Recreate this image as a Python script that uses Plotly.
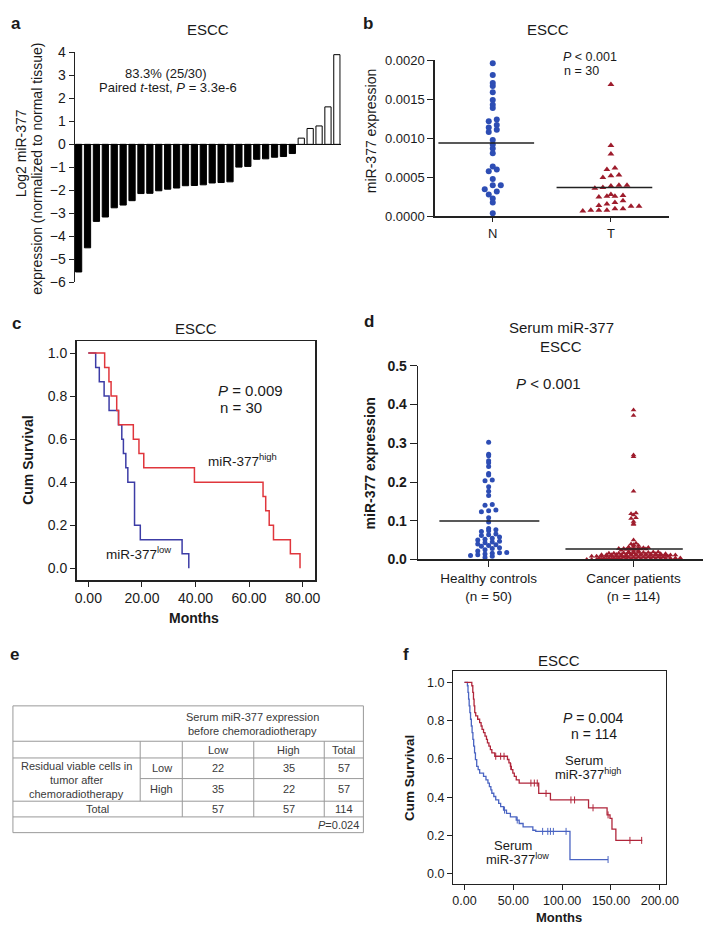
import plotly.graph_objects as go

W, H = 712, 926
def X(px): return px / W
def Y(py): return 1 - py / H

FONT = "Liberation Sans, Arial, Helvetica, sans-serif"
TXT = "#1a1a1a"

# ---------------- data ----------------
# panel a
a_log2 = [-5.55, -4.5, -3.35, -3.16, -2.76, -2.64, -2.45, -2.14, -2.13, -2.02,
          -1.95, -1.9, -1.8, -1.79, -1.76, -1.68, -1.66, -1.63, -0.99, -0.96,
          -0.65, -0.63, -0.56, -0.53, -0.4, 0.27, 0.69, 0.8, 1.63, 3.9]
a_ticks = [4, 3, 2, 1, 0, -1, -2, -3, -4, -5, -6]

# panel b
b_cats = ["N", "T"]
b_N = [0.00196, 0.00181, 0.00171, 0.00167, 0.00159, 0.00149, 0.00143, 0.00139, 0.00124, 0.00122,
       0.00117, 0.00114, 0.00111, 0.00108, 0.00098, 0.00092, 0.00087, 0.00081, 0.00064, 0.0006,
       0.00058, 0.00048, 0.0004, 0.0004, 0.00035, 0.00032, 0.00028, 0.00023, 0.00018, 0.00004]
b_T = [0.00169, 0.00091, 0.0008, 0.00062, 0.0006, 0.00053, 0.00052, 0.0005, 0.0004, 0.0004,
       0.00039, 0.00037, 0.00036, 0.00028, 0.00027, 0.00026, 0.00026, 0.00025, 0.0002, 0.00018,
       0.00016, 0.00014, 0.00013, 0.00013, 0.0001, 0.0001, 0.00008, 0.00008, 0.00008, 0.00007]
b_lines = [0.00094, 0.00037]
b_ticks = [0, 0.0005, 0.001, 0.0015, 0.002]

# panel c (Kaplan-Meier, step points)
c_high_t = [0, 6.1, 7.7, 8.5, 10.6, 11.3, 16.8, 18.9, 20.7, 39.6, 65.2, 66.2, 67.5, 69.1, 75.4, 79.0]
c_high_s = [1.0, 0.933, 0.867, 0.8, 0.733, 0.667, 0.6, 0.533, 0.467, 0.4, 0.333, 0.267, 0.2, 0.133, 0.067, 0.0]
c_low_t = [0, 2.75, 4.1, 5.9, 7.75, 11.25, 12.5, 13.1, 14.0, 14.75, 17.25, 19.4, 35.0, 37.5]
c_low_s = [1.0, 0.933, 0.867, 0.8, 0.733, 0.667, 0.6, 0.533, 0.467, 0.4, 0.2, 0.133, 0.067, 0.0]
c_xticks = [0, 20, 40, 60, 80]
km_yticks = [0, 0.2, 0.4, 0.6, 0.8, 1.0]

# panel d
d_cats = ["Healthy controls<br>(n = 50)", "Cancer patients<br>(n = 114)"]
d_healthy = [0.303, 0.272, 0.268, 0.255, 0.25, 0.24, 0.222, 0.218, 0.205, 0.203,
             0.188, 0.176, 0.165, 0.142, 0.14, 0.128, 0.126, 0.123, 0.108, 0.097,
             0.08, 0.077, 0.074, 0.072, 0.066, 0.064, 0.062, 0.058, 0.055, 0.052,
             0.05, 0.047, 0.045, 0.043, 0.04, 0.038, 0.036, 0.034, 0.03, 0.028,
             0.025, 0.022, 0.018, 0.017, 0.016, 0.014, 0.012, 0.01, 0.008, 0.005]
d_cancer = [0.386, 0.372, 0.27, 0.265, 0.176, 0.12, 0.118, 0.115, 0.108, 0.106,
            0.098, 0.093, 0.09, 0.05, 0.042, 0.04, 0.038, 0.036, 0.034,
            0.032, 0.031, 0.03, 0.03, 0.029, 0.029, 0.028, 0.028, 0.027, 0.027, 0.026, 0.026, 0.026,
            0.024, 0.022, 0.021, 0.02,
            0.019, 0.019, 0.018, 0.018, 0.018, 0.017, 0.017, 0.017, 0.016, 0.016,
            0.016, 0.015, 0.015, 0.015, 0.014, 0.014, 0.014, 0.0135, 0.0135, 0.013,
            0.0125, 0.0125, 0.012, 0.012, 0.012, 0.0115, 0.0115, 0.011, 0.011, 0.011,
            0.0105, 0.0105, 0.01, 0.01, 0.01, 0.0095, 0.0095, 0.009, 0.009, 0.0085,
            0.0085, 0.008, 0.008, 0.0075, 0.007, 0.007,
            0.006, 0.006, 0.0055, 0.0055, 0.005, 0.005, 0.005, 0.0045, 0.0045, 0.004,
            0.004, 0.004, 0.0035, 0.0035, 0.003, 0.003, 0.003, 0.0025, 0.0025, 0.002,
            0.002, 0.002, 0.0015, 0.0015, 0.001, 0.001, 0.001, 0.0005, 0.0005, 0.0,
            0.0, 0.0]
d_lines = [0.099, 0.027]
d_ticks = [0, 0.1, 0.2, 0.3, 0.4, 0.5]

# panel e (table)
e_header = ["Serum miR-377 expression", "before chemoradiotherapy"]
e_col_labels = ["Low", "High", "Total"]
e_row_title = ["Residual viable cells in", "tumor after", "chemoradiotherapy"]
e_row_labels = ["Low", "High"]
e_counts = [[22, 35, 57], [35, 22, 57]]
e_totals = [57, 57, 114]
e_p = "=0.024"

# panel f (Kaplan-Meier, step points + censor marks)
f_high_t = [0, 7.5, 8.5, 9.2, 9.8, 10.5, 11.5, 13.5, 15.5, 17, 18, 19.5, 21, 22.5, 23.5, 25, 26.5, 28, 31,
            44, 45.5, 47, 48, 49.5, 51, 53, 56, 76, 88, 127, 146, 149, 151, 155, 182]
f_high_s = [1.0, 0.982, 0.947, 0.912, 0.877, 0.842, 0.825, 0.807, 0.79, 0.772, 0.754, 0.737, 0.719, 0.702,
            0.684, 0.667, 0.649, 0.632, 0.614, 0.597, 0.579, 0.561, 0.544, 0.526, 0.509, 0.491, 0.474,
            0.42, 0.386, 0.345, 0.308, 0.29, 0.234, 0.175, 0.175]
f_high_cens_t = [32, 37, 40.5, 47.4, 68, 71.5, 74.5, 83.5, 109, 112.7, 131.6, 147, 169.4, 181.4]
f_high_cens_s = [0.614, 0.614, 0.614, 0.561, 0.474, 0.474, 0.474, 0.42, 0.386, 0.386, 0.345, 0.308, 0.175, 0.175]
f_low_t = [0, 3, 3.6, 4.2, 4.8, 5.5, 6.2, 7, 7.8, 8.6, 9.4, 10.3, 11.2, 12.5, 14, 15.5, 19.5, 22, 24,
           25.5, 27, 28, 30, 32, 35, 37, 40, 43, 47, 53, 56, 60, 70, 73, 108, 147]
f_low_s = [1.0, 0.982, 0.947, 0.912, 0.877, 0.842, 0.807, 0.772, 0.737, 0.702, 0.667, 0.632, 0.596,
           0.561, 0.544, 0.526, 0.509, 0.491, 0.474, 0.456, 0.439, 0.421, 0.404, 0.386, 0.368, 0.351,
           0.333, 0.316, 0.298, 0.281, 0.263, 0.246, 0.228, 0.222, 0.075, 0.075]
f_low_cens_t = [41, 54, 80, 85.3, 88, 91, 104, 147]
f_low_cens_s = [0.333, 0.281, 0.222, 0.222, 0.222, 0.222, 0.222, 0.075]
f_xticks = [0, 50, 100, 150, 200]

# ---------------- helpers ----------------
def swarm_offsets(values, bin_size, step):
    bins = {}
    for i, v in enumerate(values):
        bins.setdefault(int(v // bin_size), []).append(i)
    offs = [0.0] * len(values)
    for idx in bins.values():
        idx.sort(key=lambda i: values[i])
        n = len(idx)
        for k, i in enumerate(idx):
            offs[i] = (k - (n - 1) / 2) * step
    return offs

BLUE_DOT = "#2d4db4"
RED_TRI = "#9e1c2c"

fig = go.Figure()

# ---- panel a ----
fig.add_trace(go.Bar(
    x=list(range(len(a_log2))), y=a_log2, width=0.7,
    marker=dict(color=["black" if v < 0 else "white" for v in a_log2],
                line=dict(color="black", width=1)),
    xaxis="x", yaxis="y"))

# ---- panel b ----
for ci, (vals, sym, col, size) in enumerate([(b_N, "circle", BLUE_DOT, 6), (b_T, "triangle-up", RED_TRI, 6)]):
    offs = swarm_offsets(vals, 0.00007, 0.068)
    fig.add_trace(go.Scatter(x=[ci + o for o in offs], y=vals, mode="markers",
                             marker=dict(symbol=sym, color=col, size=size),
                             cliponaxis=False, xaxis="x2", yaxis="y2"))
    fig.add_trace(go.Scatter(x=[ci - 0.46, ci + 0.35], y=[b_lines[ci]] * 2, mode="lines",
                             line=dict(color="#222", width=1.5), xaxis="x2", yaxis="y2"))

# ---- panel c ----
fig.add_trace(go.Scatter(x=c_low_t, y=c_low_s, mode="lines",
                         line=dict(shape="hv", color="#3c3ca6", width=1.5), xaxis="x3", yaxis="y3"))
fig.add_trace(go.Scatter(x=c_high_t, y=c_high_s, mode="lines",
                         line=dict(shape="hv", color="#e0363c", width=1.5), xaxis="x3", yaxis="y3"))

# ---- panel d ----
for ci, (vals, sym, col, size, bs, st) in enumerate([(d_healthy, "circle", BLUE_DOT, 5, 0.01, 0.05),
                                                     (d_cancer, "triangle-up", RED_TRI, 5, 0.004, 0.034)]):
    offs = swarm_offsets(vals, bs, st)
    fig.add_trace(go.Scatter(x=[ci + o for o in offs], y=vals, mode="markers",
                             marker=dict(symbol=sym, color=col, size=size),
                             cliponaxis=False, xaxis="x4", yaxis="y4"))
line_ext = [(-0.34, 0.35), (-0.47, 0.34)]
for ci in range(2):
    fig.add_trace(go.Scatter(x=[ci + line_ext[ci][0], ci + line_ext[ci][1]], y=[d_lines[ci]] * 2,
                             mode="lines", line=dict(color="#222", width=1.5), xaxis="x4", yaxis="y4"))

# ---- panel f ----
F_BLUE, F_RED = "#4a64c2", "#b0253a"
fig.add_trace(go.Scatter(x=f_low_t, y=f_low_s, mode="lines",
                         line=dict(shape="hv", color=F_BLUE, width=1.3), xaxis="x5", yaxis="y5"))
fig.add_trace(go.Scatter(x=f_high_t, y=f_high_s, mode="lines",
                         line=dict(shape="hv", color=F_RED, width=1.3), xaxis="x5", yaxis="y5"))
fig.add_trace(go.Scatter(x=f_low_cens_t, y=f_low_cens_s, mode="markers",
                         marker=dict(symbol="line-ns", size=5, line=dict(color=F_BLUE, width=1)),
                         xaxis="x5", yaxis="y5"))
fig.add_trace(go.Scatter(x=f_high_cens_t, y=f_high_cens_s, mode="markers",
                         marker=dict(symbol="line-ns", size=5, line=dict(color=F_RED, width=1)),
                         xaxis="x5", yaxis="y5"))

# ---------------- axes ----------------
ax_common = dict(showgrid=False, zeroline=False, linecolor="#222", tickcolor="#222",
                 ticks="outside", fixedrange=True)

layout = dict(
    width=W, height=H, autosize=False, margin=dict(l=0, r=0, t=0, b=0),
    paper_bgcolor="white", plot_bgcolor="rgba(0,0,0,0)", showlegend=False,
    font=dict(family=FONT, color=TXT, size=13), hovermode=False,
    # a
    xaxis=dict(domain=[X(66), X(338)], range=[-0.45, 29.45], visible=False, anchor="y", fixedrange=True),
    yaxis=dict(domain=[Y(271), Y(37)], range=[-6, 4], anchor="x", tickvals=a_ticks,
               showline=True, linewidth=1, ticklen=5, tickfont=dict(size=14),
               **{k: v for k, v in ax_common.items() if k != "zeroline"},
               zeroline=True, zerolinecolor="#111", zerolinewidth=1),
    # b
    xaxis2=dict(domain=[X(434), X(673)], range=[-0.49, 1.49], anchor="y2", tickvals=[0, 1],
                ticktext=b_cats, showline=True, linewidth=1.5, ticklen=4, tickfont=dict(size=13), **ax_common),
    yaxis2=dict(domain=[Y(204), Y(45)], range=[0, 0.002], anchor="x2", tickvals=b_ticks,
                tickformat=".4f", showline=True, linewidth=1.5, ticklen=6, tickfont=dict(size=13), **ax_common),
    # c
    xaxis3=dict(domain=[X(68), X(312)], range=[-4.38, 84.75], anchor="y3", tickvals=c_xticks,
                tickformat=".2f", showline=True, mirror=True, linewidth=1.5, ticklen=5,
                tickfont=dict(size=14), **ax_common),
    yaxis3=dict(domain=[Y(574), Y(331)], range=[-0.0548, 1.0548], anchor="x3", tickvals=km_yticks,
                tickformat=".1f", showline=True, mirror=True, linewidth=1.5, ticklen=5,
                tickfont=dict(size=14), **ax_common),
    # d
    xaxis4=dict(domain=[X(417), X(708)], range=[-0.486, 1.48], anchor="y4", tickvals=[0, 1],
                ticktext=d_cats, showline=True, linewidth=1.5, ticklen=6,
                tickfont=dict(size=13.5), **ax_common),
    yaxis4=dict(domain=[Y(553), Y(356)], range=[0, 0.5], anchor="x4", tickvals=d_ticks,
                tickformat=".1f", showline=True, linewidth=1.5, ticklen=7,
                tickfont=dict(size=14, weight="bold"), **ax_common),
    # f
    xaxis5=dict(domain=[X(453), X(670)], range=[-11.3, 206.2], anchor="y5", tickvals=f_xticks,
                tickformat=".2f", showline=True, mirror=True, linewidth=1.5, ticklen=5,
                tickfont=dict(size=12.5), **ax_common),
    yaxis5=dict(domain=[Y(883), Y(667)], range=[-0.0513, 1.0564], anchor="x5", tickvals=km_yticks,
                tickformat=".1f", showline=True, mirror=True, linewidth=1.5, ticklen=5,
                tickfont=dict(size=12.5), **ax_common),
)
fig.update_layout(**layout)

# ---------------- annotations ----------------
anns = []
def ann(px, py, text, size=13, xanchor="center", angle=0, color=TXT):
    anns.append(dict(x=X(px), y=Y(py), xref="paper", yref="paper", text=text, showarrow=False,
                     xanchor=xanchor, yanchor="middle", textangle=angle,
                     font=dict(family=FONT, size=size, color=color)))

# panel letters
for px, py, t in [(6, 8, "a"), (366, 8, "b"), (7, 313, "c"), (367, 311, "d"), (5, 650, "e"), (405, 650, "f")]:
    ann(px, py, "<b>%s</b>" % t, size=17)

# a
ann(202, 14, "ESCC", 15)
ann(159, 59, "83.3% (25/30)", 13)
ann(161, 73, "Paired <i>t</i>-test, <i>P</i> = 3.3e-6", 13)
ann(11, 140, "Log2 miR-377", 14, angle=-90)
ann(28, 155, "expression (normalized to normal tissue)", 14, angle=-90)

# b
ann(550, 14, "ESCC", 15)
ann(563, 42, "<i>P</i> < 0.001", 12.5, xanchor="left")
ann(564, 56, "n = 30", 12.5, xanchor="left")
ann(369, 117, "miR-377 expression", 14, angle=-90)

# c
ann(190, 318, "ESCC", 15)
ann(210, 381, "<i>P</i> = 0.009", 15, xanchor="left")
ann(212, 398, "n = 30", 15, xanchor="left")
ann(200, 452, "miR-377<sup>high</sup>", 13.5, xanchor="left")
ann(96, 546, "miR-377<sup>low</sup>", 13.5, xanchor="left")
ann(19, 452, "<b>Cum Survival</b>", 14, angle=-90)
ann(188, 613, "<b>Months</b>", 14)

# d
ann(563, 317, "Serum miR-377", 15)
ann(563, 336, "ESCC", 15)
ann(550, 374, "<i>P</i> < 0.001", 15)
ann(368, 455, "<b>miR-377 expression</b>", 14, angle=-90)

# f
ann(561, 656, "ESCC", 15)
ann(596, 714, "<i>P</i> = 0.004", 14)
ann(597, 731, "n = 114", 14)
ann(586, 758, "Serum", 13)
ann(590, 771, "miR-377<sup>high</sup>", 13)
ann(514, 844, "Serum", 13)
ann(518, 858, "miR-377<sup>low</sup>", 13)
ann(408, 775, "<b>Cum Survival</b>", 13.5, angle=-90)
ann(561, 917, "<b>Months</b>", 13)

# e table
TC = "#3a3a3a"
ann(248, 713, e_header[0], 11, color=TC)
ann(248, 728, e_header[1], 11, color=TC)
col_x = [212, 285, 341]
for cx, lab in zip(col_x, e_col_labels):
    ann(cx, 747, lab, 11, color=TC)
row_y = [765, 787]
for ry, lab, counts in zip(row_y, e_row_labels, e_counts):
    ann(155, ry, lab, 11, color=TC)
    for cx, v in zip(col_x, counts):
        ann(cx, ry, str(v), 11, color=TC)
for ly, t in zip([763, 777, 792], e_row_title):
    ann(68, ly, t, 11, color=TC)
ann(89, 807, "Total", 11, color=TC)
for cx, v in zip(col_x, e_totals):
    ann(cx, 807, str(v), 11, color=TC)
ann(359, 823, "<i>P</i>" + e_p, 11, xanchor="right", color=TC)

fig.update_layout(annotations=anns)

# table lines
LC = "#999999"
shapes = []
def hline(y, x0, x1):
    shapes.append(dict(type="line", xref="paper", yref="paper", x0=X(x0), x1=X(x1), y0=Y(y), y1=Y(y),
                       line=dict(color=LC, width=1)))
def vline(x, y0, y1):
    shapes.append(dict(type="line", xref="paper", yref="paper", x0=X(x), x1=X(x), y0=Y(y0), y1=Y(y1),
                       line=dict(color=LC, width=1)))
for y in [702, 738, 755, 799, 815, 831]:
    hline(y, 3, 361)
hline(776, 133, 361)
vline(3, 702, 831)
vline(361, 702, 831)
vline(133, 738, 799)
for x in [176, 249, 321]:
    vline(x, 738, 815)
fig.update_layout(shapes=shapes)

fig.write_html("out.html", config={"displayModeBar": False, "staticPlot": True})
